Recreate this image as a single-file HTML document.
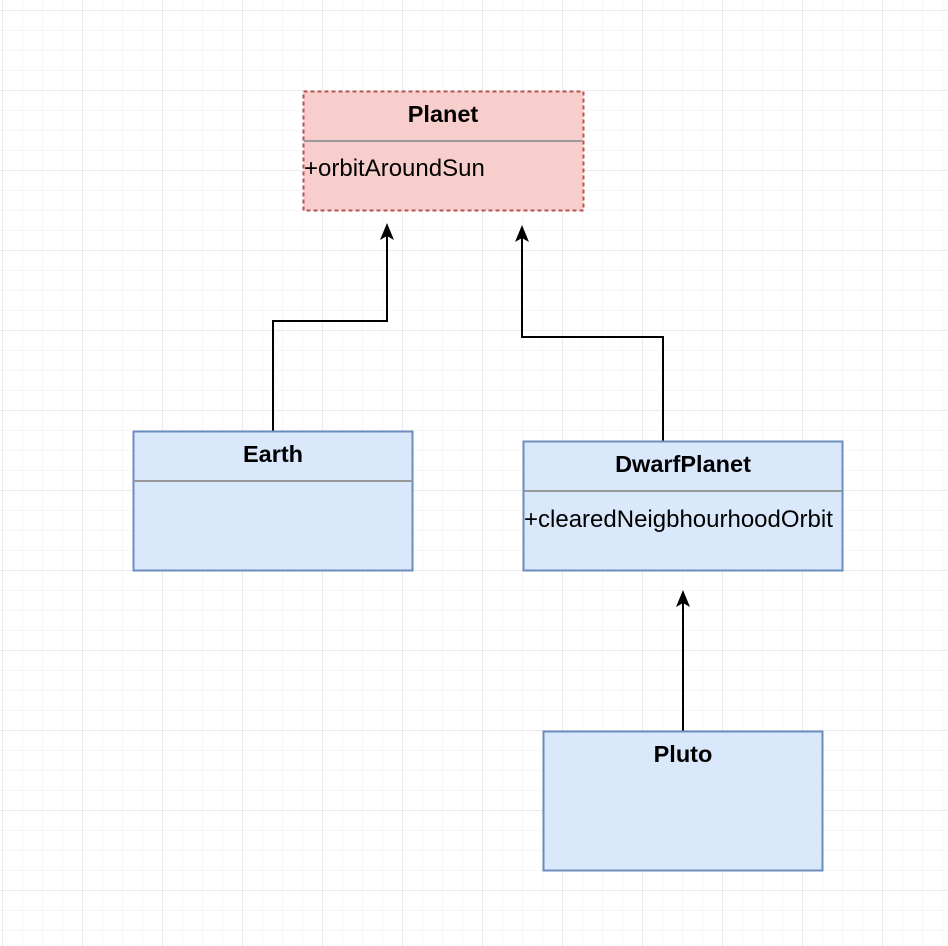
<!DOCTYPE html>
<html><head><meta charset="utf-8"><style>
html,body{margin:0;padding:0;background:#fff;}
svg{display:block;}
text{font-family:"Liberation Sans",Arial,sans-serif;font-size:24px;fill:#000;}
.b{font-weight:bold;font-size:23.5px;}
</style></head><body>
<svg width="948" height="946" viewBox="0 0 948 946" xmlns="http://www.w3.org/2000/svg">
<defs>
<pattern id="minor" x="2" y="10" width="20" height="20" patternUnits="userSpaceOnUse">
<path d="M0 0H20M0 0V20" stroke="#f3f3f3" stroke-width="1.5" fill="none"/>
</pattern>
<pattern id="major" x="2" y="10" width="80" height="80" patternUnits="userSpaceOnUse">
<path d="M0 0H80M0 0V80" stroke="#e6e6e6" stroke-width="1.5" fill="none"/>
</pattern>
</defs>
<rect width="948" height="946" fill="url(#minor)"/>
<rect width="948" height="946" fill="url(#major)"/>

<g stroke="#000" stroke-width="2" fill="none">
<path d="M273 431V321H387V236"/>
<path d="M663 441V337H522V238"/>
<path d="M683 731V602"/>
</g>
<g fill="#000">
<path d="M387 223L380 240L387 236L394 240Z"/>
<path d="M522 225L515 242L522 238L529 242Z"/>
<path d="M683 590L676 607L683 603L690 607Z"/>
</g>

<rect x="303.5" y="91.5" width="280" height="119" fill="#f8cecc" stroke="#b85450" stroke-width="2" stroke-dasharray="4 3"/>
<line x1="304" y1="141" x2="582" y2="141" stroke="#999" stroke-width="2"/>
<text class="b" x="443" y="122" text-anchor="middle">Planet</text>
<text x="304" y="176">+orbitAroundSun</text>

<rect x="133.5" y="431.5" width="279" height="139" fill="#dae8fc" stroke="#6c8ebf" stroke-width="2"/>
<line x1="134" y1="481" x2="412" y2="481" stroke="#999" stroke-width="2"/>
<text class="b" x="273" y="462" text-anchor="middle">Earth</text>

<rect x="523.5" y="441.5" width="319" height="129" fill="#dae8fc" stroke="#6c8ebf" stroke-width="2"/>
<line x1="524" y1="491" x2="842" y2="491" stroke="#999" stroke-width="2"/>
<text class="b" x="683" y="472" text-anchor="middle">DwarfPlanet</text>
<text x="524" y="527">+clearedNeigbhourhoodOrbit</text>

<rect x="543.5" y="731.5" width="279" height="139" fill="#dae8fc" stroke="#6c8ebf" stroke-width="2"/>
<text class="b" x="683" y="762" text-anchor="middle">Pluto</text>
</svg>
</body></html>
